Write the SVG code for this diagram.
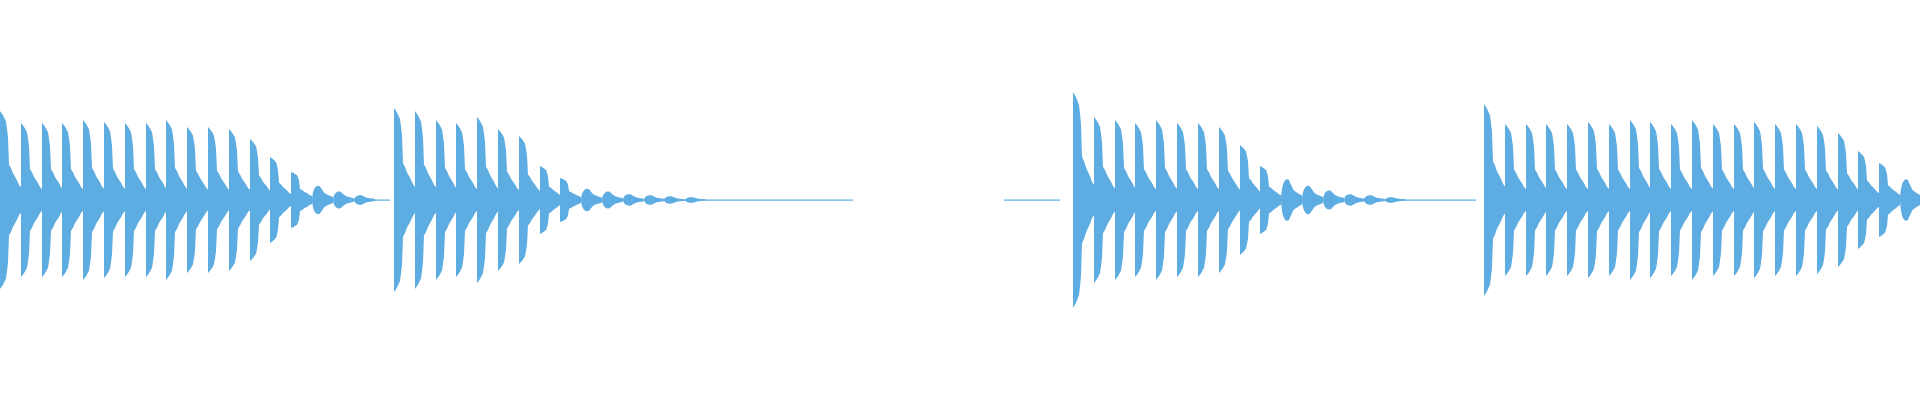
<svg xmlns="http://www.w3.org/2000/svg" width="1920" height="400" viewBox="0 0 1920 400">
<defs>
<path id="b" d="M0,0 L0,-1 L2,-0.97 L4,-0.93 L6,-0.88 L7,-0.8 L8,-0.7 L9,-0.4 L11,-0.36 L13,-0.3 L15,-0.26 L17,-0.22 L19,-0.17 L21,-0.14 L21,0.14 L19,0.17 L17,0.22 L15,0.26 L13,0.3 L11,0.36 L9,0.4 L8,0.7 L7,0.8 L6,0.88 L4,0.93 L2,0.97 L0,1 Z"/>
<path id="s" d="M0,0 C1,-1 6,-1 8,-0.9 C10,-0.7 12,-0.45 14,-0.4 C17,-0.3 19,-0.25 21,-0.2 L21,0.2 C19,0.25 17,0.3 14,0.4 C12,0.45 10,0.7 8,0.9 C6,1 1,1 0,0 Z"/>
</defs>
<style>use,rect{fill:#5dade2}</style>
<g id="waveform">
<rect x="360" y="199.5" width="30" height="1.2"/>
<rect x="680" y="199.5" width="173" height="1.2"/>
<rect x="1004" y="199.5" width="56" height="1.2"/>
<rect x="1380" y="199.5" width="96" height="1.2"/>
<use href="#b" transform="translate(0,200) scale(1,89)"/>
<use href="#b" transform="translate(21,200) scale(1,77)"/>
<use href="#b" transform="translate(42,200) scale(1,77)"/>
<use href="#b" transform="translate(62,200) scale(1,77)"/>
<use href="#b" transform="translate(83,200) scale(1,80)"/>
<use href="#b" transform="translate(104,200) scale(1,78)"/>
<use href="#b" transform="translate(125,200) scale(1,77)"/>
<use href="#b" transform="translate(146,200) scale(1,77)"/>
<use href="#b" transform="translate(166,200) scale(1,80)"/>
<use href="#b" transform="translate(187,200) scale(1,73)"/>
<use href="#b" transform="translate(208,200) scale(1,73)"/>
<use href="#b" transform="translate(229,200) scale(1,71)"/>
<use href="#b" transform="translate(250,200) scale(1,61)"/>
<use href="#b" transform="translate(270,200) scale(1,43)"/>
<use href="#b" transform="translate(291,200) scale(1,28)"/>
<use href="#s" transform="translate(312,200) scale(1,15)"/>
<use href="#s" transform="translate(333,200) scale(1,9)"/>
<use href="#s" transform="translate(354,200) scale(1,5)"/>
<use href="#b" transform="translate(394,200) scale(1,92)"/>
<use href="#b" transform="translate(415,200) scale(1,89)"/>
<use href="#b" transform="translate(436,200) scale(1,80)"/>
<use href="#b" transform="translate(456,200) scale(1,77)"/>
<use href="#b" transform="translate(477,200) scale(1,83)"/>
<use href="#b" transform="translate(498,200) scale(1,71)"/>
<use href="#b" transform="translate(519,200) scale(1,64)"/>
<use href="#b" transform="translate(540,200) scale(1,34)"/>
<use href="#b" transform="translate(560,200) scale(1,22)"/>
<use href="#s" transform="translate(581,200) scale(1,12)"/>
<use href="#s" transform="translate(602,200) scale(1,9)"/>
<use href="#s" transform="translate(623,200) scale(1,6)"/>
<use href="#s" transform="translate(644,200) scale(1,5)"/>
<use href="#s" transform="translate(664,200) scale(1,4)"/>
<use href="#s" transform="translate(685,200) scale(1,3)"/>
<use href="#b" transform="translate(1073,200) scale(1,108)"/>
<use href="#b" transform="translate(1094,200) scale(1,83)"/>
<use href="#b" transform="translate(1115,200) scale(1,80)"/>
<use href="#b" transform="translate(1135,200) scale(1,77)"/>
<use href="#b" transform="translate(1156,200) scale(1,80)"/>
<use href="#b" transform="translate(1177,200) scale(1,77)"/>
<use href="#b" transform="translate(1198,200) scale(1,77)"/>
<use href="#b" transform="translate(1219,200) scale(1,73)"/>
<use href="#b" transform="translate(1240,200) scale(1,55)"/>
<use href="#b" transform="translate(1260,200) scale(1,34)"/>
<use href="#s" transform="translate(1281,200) scale(1,22)"/>
<use href="#s" transform="translate(1302,200) scale(1,15)"/>
<use href="#s" transform="translate(1323,200) scale(1,10)"/>
<use href="#s" transform="translate(1344,200) scale(1,6)"/>
<use href="#s" transform="translate(1364,200) scale(1,5)"/>
<use href="#s" transform="translate(1385,200) scale(1,3)"/>
<use href="#b" transform="translate(1484,200) scale(1,96)"/>
<use href="#b" transform="translate(1505,200) scale(1,76)"/>
<use href="#b" transform="translate(1526,200) scale(1,76)"/>
<use href="#b" transform="translate(1546,200) scale(1,76)"/>
<use href="#b" transform="translate(1567,200) scale(1,76)"/>
<use href="#b" transform="translate(1588,200) scale(1,78)"/>
<use href="#b" transform="translate(1609,200) scale(1,76)"/>
<use href="#b" transform="translate(1630,200) scale(1,80)"/>
<use href="#b" transform="translate(1650,200) scale(1,78)"/>
<use href="#b" transform="translate(1671,200) scale(1,76)"/>
<use href="#b" transform="translate(1692,200) scale(1,80)"/>
<use href="#b" transform="translate(1713,200) scale(1,76)"/>
<use href="#b" transform="translate(1734,200) scale(1,76)"/>
<use href="#b" transform="translate(1754,200) scale(1,78)"/>
<use href="#b" transform="translate(1775,200) scale(1,76)"/>
<use href="#b" transform="translate(1796,200) scale(1,76)"/>
<use href="#b" transform="translate(1817,200) scale(1,74)"/>
<use href="#b" transform="translate(1838,200) scale(1,67)"/>
<use href="#b" transform="translate(1858,200) scale(1,49)"/>
<use href="#b" transform="translate(1879,200) scale(1,37)"/>
<use href="#s" transform="translate(1900,200) scale(1,22)"/>
</g>
</svg>
